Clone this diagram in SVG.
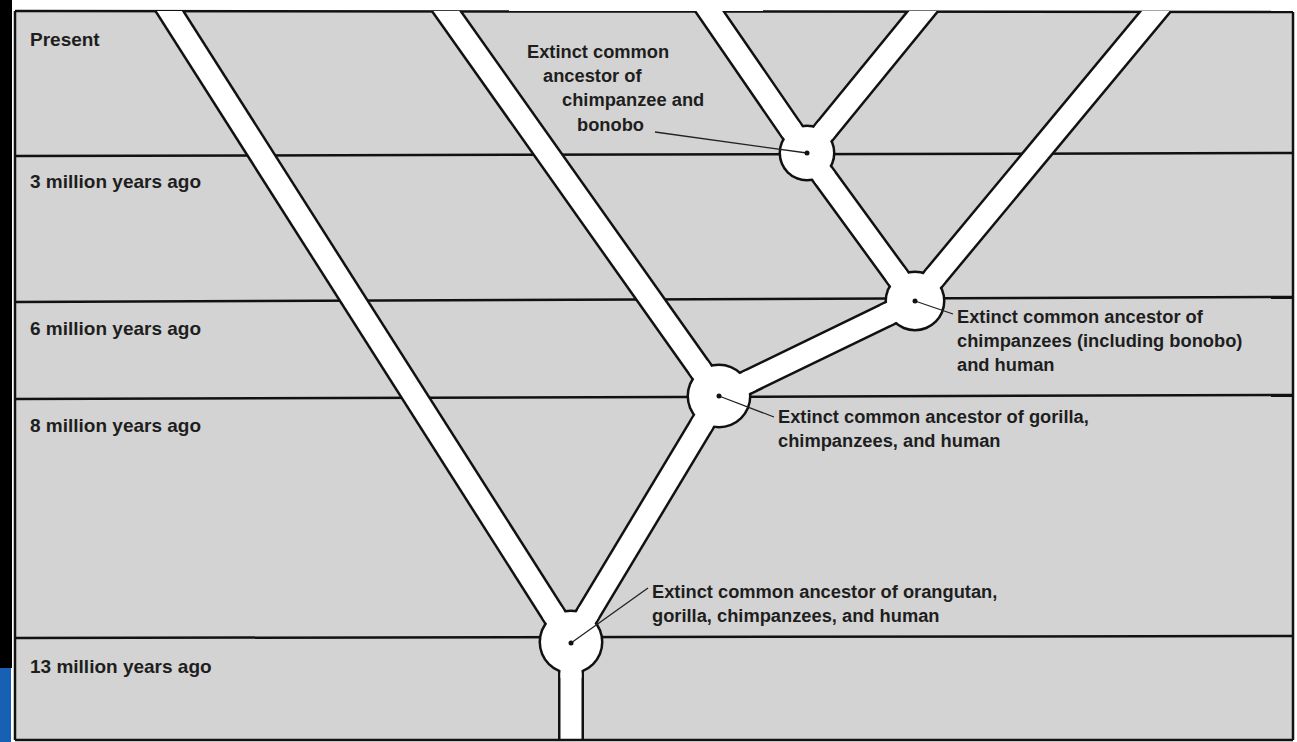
<svg xmlns="http://www.w3.org/2000/svg" width="1297" height="742" viewBox="0 0 1297 742">
  <style>
    .frame { stroke: #111; stroke-width: 2.5; fill: none; }
    .band { stroke: #111; stroke-width: 2.5; fill: none; }
    .outline { stroke: #111; stroke-width: 26; fill: none; stroke-linecap: butt; stroke-linejoin: round; }
    .fill { stroke: #fff; stroke-width: 21; fill: none; stroke-linecap: butt; stroke-linejoin: round; }
    .arm { stroke: #fff; stroke-width: 21; stroke-linecap: butt; }
    .ring { fill: #111; }
    .disc { fill: #fff; }
    .dot { fill: #111; }
    .leader { stroke: #222; stroke-width: 1.3; fill: none; }
    .lbl { font-family: "Liberation Sans", Arial, sans-serif; font-weight: bold; font-size: 18.3px; fill: #1e1e1e; }
    .time { font-family: "Liberation Sans", Arial, sans-serif; font-weight: bold; font-size: 19px; fill: #1e1e1e; }
  </style>
  <defs>
    <clipPath id="plot">
      <rect x="0" y="11" width="1297" height="728"/>
    </clipPath>
  </defs>

  <rect x="0" y="0" width="1297" height="742" fill="#fff"/>
  <rect x="0" y="0" width="12" height="668" fill="#000"/>
  <rect x="0" y="668" width="11" height="74" fill="#1860b4"/>

  <g id="frame">
    <rect x="15" y="11" width="1278" height="729" fill="#d3d3d3"/>
    <line class="frame" x1="15" y1="11" x2="1293" y2="12"/>
    <line class="frame" x1="15" y1="11" x2="15" y2="740"/>
    <line class="frame" x1="1293" y1="12" x2="1293" y2="740"/>
    <line class="band" x1="15" y1="156" x2="1293" y2="153"/>
    <line class="band" x1="15" y1="302" x2="1293" y2="297"/>
    <line class="band" x1="15" y1="399" x2="1293" y2="395"/>
    <line class="band" x1="15" y1="638" x2="1293" y2="636"/>
  </g>

  <g id="connectors" clip-path="url(#plot)">
    <g id="branch-outlines">
      <path class="outline" d="M162.4,0 L571,642"/>
      <path class="outline" d="M438.5,0 L719,396"/>
      <path class="outline" d="M571,642 L719,396"/>
      <path class="outline" d="M719,396 L915,301"/>
      <path class="outline" d="M701.7,0 L807,153 L915,301"/>
      <path class="outline" d="M932,0 L807,153"/>
      <path class="outline" d="M1165,0 L915,301"/>
      <path class="outline" d="M571,642 L571,745"/>
    </g>
    <g id="branch-fills">
      <path class="fill" d="M162.4,0 L571,642"/>
      <path class="fill" d="M438.5,0 L719,396"/>
      <path class="fill" d="M571,642 L719,396"/>
      <path class="fill" d="M719,396 L915,301"/>
      <path class="fill" d="M701.7,0 L807,153 L915,301"/>
      <path class="fill" d="M932,0 L807,153"/>
      <path class="fill" d="M1165,0 L915,301"/>
      <path class="fill" d="M571,642 L571,745"/>
    </g>
  </g>

  <g id="node-chimp-bonobo">
    <circle class="ring" cx="807" cy="153" r="28.5"/>
    <circle class="disc" cx="807" cy="153" r="26"/>
    <line class="arm" x1="807" y1="153" x2="788.9" y2="126.6"/>
    <line class="arm" x1="807" y1="153" x2="827.2" y2="128.2"/>
    <line class="arm" x1="807" y1="153" x2="825.9" y2="178.9"/>
    <line class="leader" x1="655" y1="132" x2="807" y2="153"/>
    <circle class="dot" cx="807" cy="153" r="2.5"/>
    <text class="lbl"><tspan x="527" y="58">Extinct common</tspan><tspan x="543" y="82">ancestor of</tspan><tspan x="562" y="106">chimpanzee and</tspan><tspan x="577" y="131">bonobo</tspan></text>
  </g>

  <g id="node-chimps-human">
    <circle class="ring" cx="915" cy="301" r="30.5"/>
    <circle class="disc" cx="915" cy="301" r="28"/>
    <line class="arm" x1="915" y1="301" x2="894.9" y2="273.5"/>
    <line class="arm" x1="915" y1="301" x2="936.7" y2="274.9"/>
    <line class="arm" x1="915" y1="301" x2="884.4" y2="315.8"/>
    <line class="leader" x1="915" y1="301" x2="953" y2="314"/>
    <circle class="dot" cx="915" cy="301" r="2.5"/>
    <text class="lbl"><tspan x="957" y="323">Extinct common ancestor of</tspan><tspan x="957" y="347">chimpanzees (including bonobo)</tspan><tspan x="957" y="371">and human</tspan></text>
  </g>

  <g id="node-gorilla-chimps-human">
    <circle class="ring" cx="719" cy="396" r="32.5"/>
    <circle class="disc" cx="719" cy="396" r="30"/>
    <line class="arm" x1="719" y1="396" x2="751.4" y2="380.3"/>
    <line class="arm" x1="719" y1="396" x2="698.2" y2="366.6"/>
    <line class="arm" x1="719" y1="396" x2="700.4" y2="426.8"/>
    <line class="leader" x1="719" y1="396" x2="774" y2="417"/>
    <circle class="dot" cx="719" cy="396" r="2.5"/>
    <text class="lbl"><tspan x="778" y="423">Extinct common ancestor of gorilla,</tspan><tspan x="778" y="447">chimpanzees, and human</tspan></text>
  </g>

  <g id="node-orangutan-all">
    <circle class="ring" cx="571" cy="642" r="32.5"/>
    <circle class="disc" cx="571" cy="642" r="30"/>
    <line class="arm" x1="571" y1="642" x2="589.6" y2="611.2"/>
    <line class="arm" x1="571" y1="642" x2="551.7" y2="611.6"/>
    <line class="arm" x1="571" y1="642" x2="571" y2="678"/>
    <line class="leader" x1="571" y1="643" x2="648" y2="588"/>
    <circle class="dot" cx="571" cy="643" r="2.5"/>
    <text class="lbl"><tspan x="652" y="598">Extinct common ancestor of orangutan,</tspan><tspan x="652" y="622">gorilla, chimpanzees, and human</tspan></text>
  </g>

  <line class="frame" x1="15" y1="740" x2="1293" y2="740"/>

  <g id="timescale">
    <text class="time" x="30" y="46">Present</text>
    <text class="time" x="30" y="188">3 million years ago</text>
    <text class="time" x="30" y="335">6 million years ago</text>
    <text class="time" x="30" y="432">8 million years ago</text>
    <text class="time" x="30" y="673">13 million years ago</text>
  </g>
</svg>
